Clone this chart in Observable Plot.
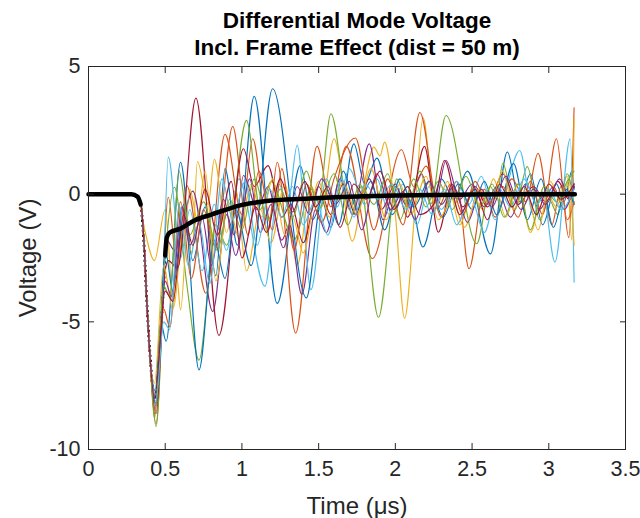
<!DOCTYPE html>
<html><head><meta charset="utf-8">
<script src="https://cdn.jsdelivr.net/npm/d3@7"></script>
<script src="https://cdn.jsdelivr.net/npm/@observablehq/plot@0.6"></script>
<style>body{margin:0;background:#fff} svg{display:block}</style>
</head><body><div id="chart"></div>
<script>
// ---- tick labels / text ----
const xTicks = [0, 0.5, 1, 1.5, 2, 2.5, 3, 3.5];
const yTicks = [-10, -5, 0, 5];
const titleLines = ["Differential Mode Voltage", "Incl. Frame Effect (dist = 50 m)"];
const xLabel = "Time (\u03bcs)";
const yLabel = "Voltage (V)";

// ---- shared pulse onset (time µs, voltage V) ----
const lead = [[0,0],[0.28,0],[0.32,-0.08],[0.34,-0.3],[0.36,-1.7],[0.38,-4.2],[0.40,-6.3]];

// ---- individual runs: [time µs, voltage V] at turning points ----
const blue1 = [[0.435,-7.7],[0.47,-5.0],[0.506,-5.76],[0.60,1.25],[0.68,-2.6],[0.76,-0.5],[0.83,-3.2],[0.89,1.0],[0.97,-2.0],[1.08,3.83],[1.23,-4.28],[1.38,1.12],[1.46,-1.0],[1.55,0.2],[1.63,-1.2],[1.73,1.97],[1.80,0.4],[1.88,1.41],[1.98,-0.8],[2.08,0.3],[2.18,-2.07],[2.30,0.6],[2.38,-0.2],[2.47,0.9],[2.62,-2.34],[2.73,1.65],[2.81,-0.3],[2.88,0.8],[2.96,-1.2],[3.05,0.4],[3.10,-0.3],[3.15,0.9],[3.165,0.2]];
const orange1 = [[0.44,-9.0],[0.52,-0.12],[0.58,-3.0],[0.64,0.34],[0.765,-3.88],[0.89,2.34],[1.00,-0.8],[1.07,2.17],[1.17,-1.5],[1.23,1.25],[1.35,-5.44],[1.49,1.87],[1.58,-0.5],[1.68,1.87],[1.85,-2.52],[2.04,1.74],[2.12,0.3],[2.20,1.1],[2.30,-0.9],[2.40,0.5],[2.48,-2.92],[2.58,0.2],[2.65,-0.9],[2.76,0.6],[2.85,-0.3],[2.93,1.6],[3.02,-1.2],[3.08,0.3],[3.13,-1.7],[3.165,3.38]];
const yellow1 = [[0,0],[0.29,0],[0.33,-0.3],[0.37,-1.5],[0.43,-2.6],[0.50,-0.6],[0.555,-4.43],[0.62,-1.0],[0.675,-2.3],[0.71,1.28],[0.78,-0.4],[0.82,1.36],[0.90,-1.5],[0.96,0.2],[1.03,-3.0],[1.12,-0.6],[1.19,-1.9],[1.28,0.4],[1.36,-2.8],[1.45,0.3],[1.52,-0.5],[1.60,2.17],[1.72,-1.84],[1.79,0.2],[1.86,1.84],[1.90,1.5],[1.93,2.04],[2.00,-0.8],[2.06,-4.86],[2.13,-0.4],[2.18,3.0],[2.26,-0.6],[2.34,0.5],[2.42,-1.2],[2.50,0.0],[2.57,-0.6],[2.64,0.6],[2.72,-0.9],[2.80,0.4],[2.88,-1.5],[2.97,0.3],[3.05,-0.5],[3.12,0.7],[3.15,-1.8],[3.165,2.96]];
const purple1 = [[0.44,-8.2],[0.51,-1.8],[0.56,-2.2],[0.68,0.12],[0.81,-4.6],[0.90,-0.8],[0.95,-1.6],[1.01,0.73],[1.10,-0.6],[1.17,0.3],[1.26,-1.8],[1.31,-1.2],[1.39,-3.93],[1.48,-0.6],[1.55,-1.5],[1.64,0.6],[1.72,-0.8],[1.83,1.97],[1.92,-1.0],[2.00,0.3],[2.08,-0.5],[2.17,0.8],[2.25,-0.7],[2.33,1.32],[2.42,-0.2],[2.50,0.4],[2.58,-0.5],[2.66,0.3],[2.75,-0.9],[2.85,0.4],[2.94,-0.6],[3.03,0.3],[3.10,-0.6],[3.165,0.4]];
const green1 = [[0.44,-9.1],[0.50,-2.5],[0.56,0.27],[0.64,-3.5],[0.72,-6.5],[0.83,-1.2],[0.90,-2.0],[1.03,2.89],[1.12,-0.6],[1.19,0.5],[1.34,-1.78],[1.45,0.2],[1.50,-0.3],[1.58,3.15],[1.70,-0.6],[1.77,0.4],[1.89,-4.82],[2.01,0.6],[2.08,-0.5],[2.16,0.9],[2.23,-0.4],[2.33,3.08],[2.53,-1.94],[2.62,0.3],[2.66,-0.2],[2.70,1.21],[2.78,-0.6],[2.86,1.08],[2.94,-1.0],[3.00,-0.2],[3.06,-0.8],[3.12,0.8],[3.165,-0.4]];
const lightblue1 = [[0.44,-7.9],[0.48,-4.8],[0.52,1.45],[0.60,-2.5],[0.66,-0.6],[0.74,-3.0],[0.82,-0.4],[0.90,-2.2],[0.98,0.6],[1.15,-3.6],[1.24,0.4],[1.30,-0.4],[1.36,1.91],[1.45,-3.74],[1.55,0.6],[1.62,-0.5],[1.70,1.0],[1.80,-0.4],[1.88,0.6],[1.96,-0.8],[2.05,0.4],[2.14,-1.2],[2.22,0.3],[2.30,-0.6],[2.40,0.5],[2.48,-0.4],[2.56,0.7],[2.65,-1.0],[2.72,0.2],[2.81,1.71],[2.90,-0.8],[2.96,0.1],[3.04,-2.66],[3.14,2.17],[3.165,-3.45]];
const darkred1 = [[0.44,-8.6],[0.50,-3.0],[0.52,-2.6],[0.58,-2.9],[0.70,3.76],[0.85,-5.53],[1.01,1.78],[1.08,0.3],[1.17,1.12],[1.26,-0.9],[1.32,-0.4],[1.40,-1.9],[1.50,0.3],[1.58,-0.8],[1.66,0.4],[1.74,-0.8],[1.83,0.6],[1.91,-0.6],[2.00,0.4],[2.08,-0.9],[2.19,1.87],[2.28,-1.49],[2.37,0.4],[2.44,-0.5],[2.52,0.3],[2.60,-0.5],[2.70,0.8],[2.80,-0.4],[2.90,0.3],[2.98,-0.3],[3.06,0.5],[3.13,-0.2],[3.165,0.3]];
const blue2 = [[0.44,-8.3],[0.50,-2.2],[0.55,-3.8],[0.62,-0.4],[0.72,-6.88],[0.82,-1.8],[0.89,-3.3],[0.96,-0.6],[1.06,-2.8],[1.20,4.13],[1.42,-4.06],[1.52,-0.2],[1.58,-1.3],[1.66,0.9],[1.75,-0.6],[1.84,0.5],[1.93,-1.4],[2.03,0.6],[2.12,-0.5],[2.22,0.5],[2.31,-0.9],[2.41,0.4],[2.50,-0.6],[2.58,0.5],[2.66,-0.8],[2.77,1.2],[2.86,-1.0],[2.95,0.6],[3.03,-1.3],[3.11,0.2],[3.165,-0.4]];
const orange2 = [[0.43,-8.6],[0.49,-4.5],[0.53,-5.2],[0.60,-0.3],[0.67,-3.3],[0.75,-0.6],[0.83,-2.1],[0.94,2.65],[1.04,-1.6],[1.11,0.9],[1.20,-1.4],[1.26,1.0],[1.34,-2.2],[1.42,0.4],[1.52,-1.1],[1.60,0.6],[1.74,2.2],[1.86,-1.4],[1.95,0.6],[2.05,-1.2],[2.16,3.2],[2.28,-0.5],[2.36,0.4],[2.44,-0.8],[2.52,0.5],[2.60,-0.4],[2.70,0.3],[2.80,-0.9],[2.88,0.5],[2.96,-0.8],[3.05,2.17],[3.12,-1.0],[3.165,-0.3]];
const yellow2 = [[0.43,-7.4],[0.49,-2.8],[0.55,-4.53],[0.575,-3.2],[0.60,-4.53],[0.66,0.2],[0.71,-1.0],[0.76,0.9],[0.83,-3.4],[0.91,-0.3],[0.98,-1.7],[1.06,0.4],[1.13,-0.9],[1.20,0.6],[1.28,-1.6],[1.33,-0.9],[1.40,-2.3],[1.50,0.5],[1.57,-0.9],[1.66,0.5],[1.75,-0.8],[1.84,1.0],[1.94,-1.0],[2.03,0.4],[2.10,-0.8],[2.20,0.7],[2.28,-1.0],[2.37,-0.2],[2.45,-1.3],[2.55,0.2],[2.62,-0.4],[2.70,0.9],[2.77,-0.6],[2.85,0.2],[2.93,-1.4],[3.01,0.5],[3.08,-0.3],[3.13,0.5],[3.165,-2.0]];
const purple2 = [[0.44,-8.0],[0.50,-3.4],[0.54,-4.0],[0.61,-0.5],[0.66,-2.0],[0.74,-0.9],[0.80,-2.8],[0.88,-0.2],[0.96,-2.4],[1.05,0.6],[1.12,-1.5],[1.19,-0.4],[1.27,-2.1],[1.36,0.3],[1.44,-0.8],[1.52,0.6],[1.61,-0.4],[1.70,0.5],[1.78,-1.4],[1.88,0.8],[1.97,-0.6],[2.05,0.1],[2.13,-1.0],[2.22,0.5],[2.30,-0.4],[2.38,0.3],[2.47,-1.1],[2.56,0.2],[2.63,-0.5],[2.72,0.7],[2.82,-0.6],[2.90,0.2],[2.98,-0.4],[3.07,0.6],[3.14,-0.2],[3.165,0.3]];
const green2 = [[0.43,-8.8],[0.49,-3.6],[0.53,-4.0],[0.59,0.9],[0.66,-1.6],[0.75,-0.3],[0.84,-2.2],[0.92,-0.2],[1.00,-1.4],[1.08,0.6],[1.17,-1.0],[1.25,0.2],[1.33,-0.9],[1.42,0.9],[1.50,-0.6],[1.60,0.8],[1.69,-1.2],[1.78,0.3],[1.86,-0.4],[1.95,0.8],[2.03,-1.0],[2.12,0.6],[2.20,-0.5],[2.28,0.5],[2.37,-0.6],[2.46,0.7],[2.55,-0.5],[2.63,0.4],[2.71,-0.9],[2.80,0.4],[2.88,-1.4],[2.97,0.3],[3.05,-0.3],[3.12,0.5],[3.165,0.9]];
const lightblue2 = [[0.44,-8.1],[0.49,-5.0],[0.53,-5.3],[0.59,-0.4],[0.65,-2.8],[0.72,-1.1],[0.79,-3.5],[0.87,0.6],[0.94,-1.0],[1.02,0.5],[1.10,-2.0],[1.18,0.2],[1.26,-0.9],[1.33,0.3],[1.40,-1.2],[1.48,-0.2],[1.56,-1.6],[1.65,0.6],[1.73,-0.9],[1.80,0.4],[1.89,-0.2],[1.98,0.4],[2.07,-0.6],[2.16,0.2],[2.24,-0.8],[2.32,0.2],[2.40,-1.2],[2.49,-0.1],[2.58,-1.5],[2.67,0.3],[2.75,-0.5],[2.84,0.6],[2.92,-0.4],[3.00,0.2],[3.08,-0.6],[3.165,0.2]];
const darkred2 = [[0.43,-8.0],[0.50,-3.8],[0.55,-4.2],[0.62,-0.8],[0.68,-2.0],[0.76,0.2],[0.84,-1.6],[0.93,0.5],[1.00,-2.5],[1.09,-0.5],[1.16,-1.5],[1.25,0.6],[1.33,-0.7],[1.41,0.5],[1.48,-0.5],[1.56,0.3],[1.64,-1.3],[1.73,0.4],[1.81,-0.2],[1.90,0.9],[1.99,-0.6],[2.08,0.3],[2.16,-0.8],[2.25,-0.4],[2.32,1.32],[2.42,-0.8],[2.52,0.2],[2.60,-1.0],[2.68,0.4],[2.76,-0.5],[2.84,0.3],[2.92,-0.8],[3.00,0.4],[3.08,-0.2],[3.165,0.4]];

// ---- mean response (thick black) ----
const meanCurve = [[0,0],[0.28,0],[0.32,-0.1],[0.34,-0.4],[0.36,-1.8],[0.38,-4.2],[0.40,-6.2],[0.43,-8.0],[0.45,-7.5],[0.47,-5.5],[0.49,-3.5],[0.50,-2.4],[0.51,-1.7],[0.53,-1.5],[0.60,-1.35],[0.69,-1.03],[0.80,-0.8],[0.88,-0.64],[1.00,-0.42],[1.10,-0.32],[1.19,-0.25],[1.40,-0.18],[1.60,-0.12],[1.80,-0.08],[2.00,-0.05],[2.40,-0.02],[2.80,0],[3.17,0]];

const seriesNames = ["blue1","orange1","yellow1","purple1","green1","lightblue1","darkred1","blue2","orange2","yellow2","purple2","green2","lightblue2","darkred2"];
const seriesColors = ["#0072BD","#D95319","#EDB120","#7E2F8E","#77AC30","#4DBEEE","#A2142F","#0072BD","#D95319","#EDB120","#7E2F8E","#77AC30","#4DBEEE","#A2142F"];
const seriesData = [blue1,orange1,yellow1,purple1,green1,lightblue1,darkred1,blue2,orange2,yellow2,purple2,green2,lightblue2,darkred2];

const rows = seriesData.flatMap((pts, i) => {
  const full = pts[0][0] === 0 ? pts : lead.concat(pts);
  return full.map(([t, v]) => ({series: seriesNames[i], color: seriesColors[i], t, v}));
});
const meanRows = meanCurve.map(([t, v]) => ({t, v}));
const meanDrop = meanRows.filter(d => d.t >= 0.30 && d.t <= 0.51);
const meanFlat = meanRows.filter(d => d.t <= 0.34);
const meanTail = meanRows.filter(d => d.t >= 0.50);

const ink = "#262626";
const fmt = d => String(d);

const chart = Plot.plot({
  width: 640, height: 518,
  marginLeft: 88, marginRight: 15, marginTop: 66, marginBottom: 69,
  x: {domain: [0, 3.5], label: null},
  y: {domain: [-10, 5], label: null},
  color: {type: "identity"},
  style: {fontFamily: "'Liberation Sans', Arial, sans-serif", background: "#fff", color: ink},
  marks: [
    Plot.line(meanDrop, {x: "t", y: "v", stroke: "#000", strokeWidth: 3, strokeDasharray: "0 5", strokeLinecap: "round", curve: "monotone-x"}),
    Plot.line(rows, {x: "t", y: "v", z: "series", stroke: "color", strokeWidth: 1.15, curve: "monotone-x"}),
    Plot.line(meanFlat, {x: "t", y: "v", stroke: "#000", strokeWidth: 4.5, curve: "monotone-x"}),
    Plot.line(meanTail, {x: "t", y: "v", stroke: "#000", strokeWidth: 4.5, curve: "monotone-x"}),
    Plot.frame({stroke: ink, strokeWidth: 1}),
    Plot.axisX({anchor: "bottom", ticks: xTicks, tickSize: -6, tickFormat: () => "", label: null, stroke: ink}),
    Plot.axisX({anchor: "top", ticks: xTicks, tickSize: -6, tickFormat: () => "", label: null, stroke: ink}),
    Plot.axisY({anchor: "left", ticks: yTicks, tickSize: -6, tickFormat: () => "", label: null, stroke: ink}),
    Plot.axisY({anchor: "right", ticks: yTicks, tickSize: -6, tickFormat: () => "", label: null, stroke: ink}),
    Plot.axisX({anchor: "bottom", ticks: xTicks, tickSize: 0, tickPadding: 11, tickFormat: fmt, label: null, fontSize: 21.5, fill: ink}),
    Plot.axisY({anchor: "left", ticks: yTicks, tickSize: 0, tickPadding: 8, tickFormat: fmt, label: null, fontSize: 21.5, fill: ink}),
    Plot.text([xLabel], {frameAnchor: "bottom", lineAnchor: "middle", dy: 57, fontSize: 24, fill: ink}),
    Plot.text([yLabel], {frameAnchor: "left", textAnchor: "middle", lineAnchor: "middle", dx: -60, rotate: -90, fontSize: 24, fill: ink}),
    Plot.text([titleLines[0]], {frameAnchor: "top", lineAnchor: "middle", dy: -46, fontSize: 22.5, fontWeight: "bold", fill: "#000"}),
    Plot.text([titleLines[1]], {frameAnchor: "top", lineAnchor: "middle", dy: -19, fontSize: 22.5, fontWeight: "bold", fill: "#000"})
  ]
});
document.getElementById("chart").append(chart);
</script>
</body></html>
